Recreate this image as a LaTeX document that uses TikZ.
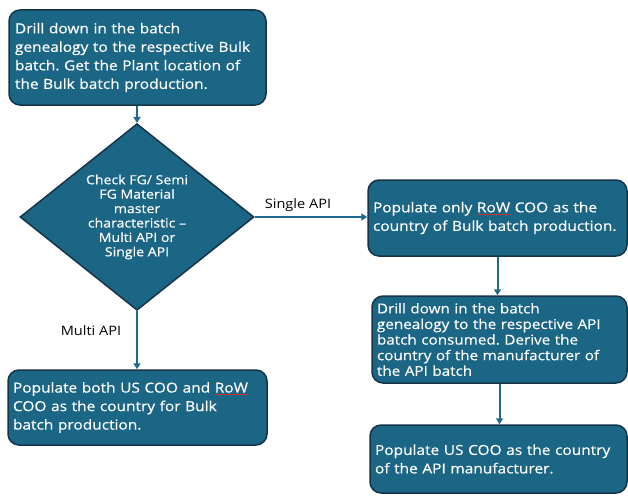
\documentclass[tikz,border=0pt]{standalone}
\usepackage{fontspec}
\setmainfont{Open Sans}[FakeStretch=1.12,FakeBold=0.4]
\newfontfamily\lblfont{Open Sans}[FakeStretch=1.12]
\usetikzlibrary{shapes.geometric,arrows.meta}
\definecolor{boxfill}{HTML}{1B6585}
\definecolor{boxline}{HTML}{15344A}
\definecolor{arrowc}{HTML}{1F6A8A}
\definecolor{spell}{HTML}{D03030}
\newcommand{\spellrow}{\textcolor{spell}{\underline{\textcolor{white}{RoW}}}}
\frenchspacing
\tikzset{
  procbox/.style={draw=boxline, line width=1.5pt, fill=boxfill, rounded corners=11pt,
    text=white, align=left, inner xsep=5pt, inner ysep=0pt,
    font=\fontsize{13.8}{18.5}\selectfont, anchor=center},
  decbox/.style={diamond, draw=boxline, line width=1.5pt, fill=boxfill, text=white,
    align=center, inner sep=0pt, minimum width=234pt, minimum height=180pt,
    font=\fontsize{12.6}{14.4}\selectfont},
  flow/.style={draw=arrowc, line width=2pt, -{Triangle[length=6pt,width=7pt]}},
  lbl/.style={text=black, font=\lblfont\fontsize{13}{15}\selectfont}
}
\begin{document}
\begin{tikzpicture}[x=1pt,y=-1pt]
\useasboundingbox (0,0) rectangle (628,495);
\node[procbox, minimum width=257pt, minimum height=95pt, text width=245pt] (b1) at (137.5,57.5)
  {Drill down in the batch\\genealogy to the respective Bulk\\batch. Get the Plant location of\\the Bulk batch production.};
\node[decbox] (d) at (137,217)
  {Check FG/ Semi\\FG Material\\master\\characteristic --\\Multi API or\\Single API};
\node[procbox, minimum width=259pt, minimum height=76pt, text width=249pt] (b2) at (497.5,218)
  {Populate only \spellrow{} COO as the\\country of Bulk batch production.};
\node[procbox, minimum width=255pt, minimum height=87pt, text width=245pt,
  font=\fontsize{13.6}{15.6}\selectfont] (b3) at (499.5,339.5)
  {Drill down in the batch\\genealogy to the respective API\\batch consumed. Derive the\\country of the manufacturer of\\the API batch};
\node[procbox, minimum width=257pt, minimum height=68pt, text width=247pt, inner ysep=0pt] (b4) at (498.5,459)
  {\raisebox{2pt}{\parbox{247pt}{Populate US COO as the country\\of the API manufacturer.}}};
\node[procbox, minimum width=259pt, minimum height=75pt, text width=249pt] (b5) at (137.5,407.5)
  {Populate both US COO and \spellrow\\COO as the country for Bulk\\batch production.};
\draw[flow] (b1.south -| d.north) -- (d.north);
\draw[flow] (d.east) -- (b2.west |- d.east);
\draw[flow] (d.south) -- (d.south |- b5.north);
\draw[flow] (b2.south) -- (b2.south |- b3.north);
\draw[flow] (b3.south) -- (b3.south |- b4.north);
\node[lbl] (ls) at (298,205) {Single API};
\node[lbl] (lm) at (91,331) {Multi API};
\end{tikzpicture}
\end{document}
